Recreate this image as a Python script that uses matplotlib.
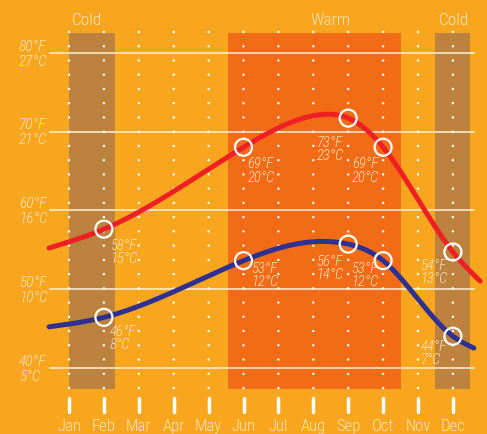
import numpy as np
import matplotlib
matplotlib.use("Agg")
import matplotlib.pyplot as plt
from matplotlib import font_manager

# ---------------- data ----------------
months = ["Jan", "Feb", "Mar", "Apr", "May", "Jun", "Jul", "Aug", "Sep", "Oct", "Nov", "Dec"]
# key points of the curves (month index, °F), incl. the short lead-in / lead-out
high_x = [-0.57, 1, 5, 7, 8, 9, 11, 11.78]
high_f = [55.2, 57.6, 68.0, 72.0, 71.7, 68.0, 54.7, 51.0]
low_x = [-0.57, 1, 5, 7, 8, 9, 11, 11.6]
low_f = [45.2, 46.4, 53.6, 56.0, 55.7, 53.6, 44.0, 42.5]

# annotated points (month index) and their label texts
high_marks = [1, 5, 8, 9, 11]
high_f_labels = ["58°F", "69°F", "73°F", "69°F", "54°F"]
high_c_labels = ["15°C", "20°C", "23°C", "20°C", "13°C"]
low_marks = [1, 5, 8, 9, 11]
low_f_labels = ["46°F", "53°F", "56°F", "53°F", "44°F"]
low_c_labels = ["8°C", "12°C", "14°C", "12°C", "7°C"]

grid_f = [80, 70, 60, 50, 40]
grid_c = ["27°C", "21°C", "16°C", "10°C", "5°C"]

seasons = ["Cold", "Warm", "Cold"]
season_spans = [(0.0, 1.32), (4.556, 9.513), (10.487, 11.49)]

# ---------------- style ----------------
BG = "#f9a61f"
COLD = "#bc823e"
WARM = "#f26b16"
RED = "#ee2024"
BLUE = "#2e3192"
CREAM = "#f8e3b8"

names = sorted({f.name for f in font_manager.fontManager.ttflist})
narrow = None
for pref in ["Liberation Sans Narrow", "Roboto Condensed", "DejaVu Sans Condensed",
             "Open Sans Condensed", "Noto Sans Condensed"]:
    if pref in names:
        narrow = pref
        break
if narrow is None:
    for n in names:
        if "Narrow" in n or "Condensed" in n:
            narrow = n
            break
fams = ([narrow] if narrow else []) + ["DejaVu Sans"]
plt.rcParams["font.family"] = fams
stretch = "condensed"
weight = "light"

fig = plt.figure(figsize=(4.87, 4.35), dpi=100, facecolor=BG)
ax = fig.add_axes([0, 0, 1, 1])
ax.set_facecolor(BG)
ax.set_xlim(-69 / 34.9, (487 - 69) / 34.9)
ax.set_ylim(50 + (290 - 435) / 7.875, 50 + 290 / 7.875)
ax.axis("off")

band_top = 50 + (290 - 34) / 7.875
band_bot = 50 + (290 - 390) / 7.875
season_colors = [COLD, WARM, COLD]
season_label_x = [0.53, 7.48, 11.03]
for (x0, x1), col in zip(season_spans, season_colors):
    ax.add_patch(plt.Rectangle((x0, band_bot), x1 - x0, band_top - band_bot,
                               facecolor=col, edgecolor="none", zorder=1))
for name, lx in zip(seasons, season_label_x):
    ax.text(lx, 50 + (290 - 20) / 7.875, name, ha="center", va="center",
            fontsize=12.5, color=CREAM, zorder=5, fontstretch=stretch,
            fontweight=weight)

# grid lines
gx0 = (50 - 69) / 34.9
gx1 = (474 - 69) / 34.9
for f, c in zip(grid_f, grid_c):
    ax.plot([gx0, gx1], [f, f], color="#fff3dc", lw=1.2, alpha=0.9, zorder=2)
    ax.text(-1.43, f + 7 / 7.875, f"{f}°F", ha="left", va="center",
            fontsize=11, style="italic", color=CREAM, zorder=5, fontstretch=stretch,
            fontweight=weight)
    ax.text(-1.43, f - 8 / 7.875, c, ha="left", va="center",
            fontsize=11, style="italic", color=CREAM, zorder=5, fontstretch=stretch,
            fontweight=weight)

# dot grid
dot_rows = 50 + (290 - (33 + 14.24 * np.arange(26))) / 7.875
for i in range(len(months)):
    ax.scatter(np.full(dot_rows.size, i), dot_rows, s=3, color="white",
               edgecolors="none", zorder=3)

# month ticks and labels
for i, m in enumerate(months):
    ax.plot([i, i], [50 + (290 - 399) / 7.875, 50 + (290 - 413) / 7.875],
            color="white", lw=2.5, solid_capstyle="round", zorder=3)
    ax.text(i, 50 + (290 - 427) / 7.875, m, ha="center", va="center",
            fontsize=12, color=CREAM, zorder=5, fontstretch=stretch,
            fontweight=weight)


def natural_spline(xs, ys, n=400):
    x = np.asarray(xs, float)
    y = np.asarray(ys, float)
    k = len(x)
    h = np.diff(x)
    A = np.zeros((k, k))
    b = np.zeros(k)
    A[0, 0] = A[-1, -1] = 1
    for i in range(1, k - 1):
        A[i, i - 1] = h[i - 1]
        A[i, i] = 2 * (h[i - 1] + h[i])
        A[i, i + 1] = h[i]
        b[i] = 6 * ((y[i + 1] - y[i]) / h[i] - (y[i] - y[i - 1]) / h[i - 1])
    M = np.linalg.solve(A, b)
    xx = np.linspace(x[0], x[-1], n)
    idx = np.clip(np.searchsorted(x, xx) - 1, 0, k - 2)
    x0, x1 = x[idx], x[idx + 1]
    hh = x1 - x0
    t0, t1 = x1 - xx, xx - x0
    yy = (M[idx] * t0 ** 3 / (6 * hh) + M[idx + 1] * t1 ** 3 / (6 * hh)
          + (y[idx] / hh - M[idx] * hh / 6) * t0
          + (y[idx + 1] / hh - M[idx + 1] * hh / 6) * t1)
    return xx, yy


for xs, ys, col in ((high_x, high_f, RED), (low_x, low_f, BLUE)):
    cx, cy = natural_spline(xs, ys)
    ax.plot(cx, cy, color=col, lw=3.6, solid_capstyle="round", zorder=4)

# label offsets in pixels: (dx, dy_F, dy_C), dy downward
high_off = [(6, 16, 29), (4, 16, 30), (-31, 24, 37), (-31, 16, 30), (-33, 13, 26)]
low_off = [(6, 14, 27), (8, 7, 20), (-32, 17, 30), (-32, 7, 20), (-32, 10, 23)]

for marks, xs, ys, fl, cl, offs in (
        (high_marks, high_x, high_f, high_f_labels, high_c_labels, high_off),
        (low_marks, low_x, low_f, low_f_labels, low_c_labels, low_off)):
    for m, f_lab, c_lab, (dx, dyf, dyc) in zip(marks, fl, cl, offs):
        yv = ys[xs.index(m)]
        ax.scatter([m], [yv], s=150, facecolors="none", edgecolors="white",
                   linewidths=1.6, zorder=6)
        ax.annotate(f_lab, (m, yv), xytext=(dx, -dyf), textcoords="offset pixels",
                    ha="left", va="center", fontsize=10.5, style="italic",
                    color=CREAM, zorder=7, fontstretch=stretch, fontweight=weight)
        ax.annotate(c_lab, (m, yv), xytext=(dx, -dyc), textcoords="offset pixels",
                    ha="left", va="center", fontsize=10.5, style="italic",
                    color=CREAM, zorder=7, fontstretch=stretch, fontweight=weight)

fig.savefig("out.png", dpi=100, facecolor=BG)
